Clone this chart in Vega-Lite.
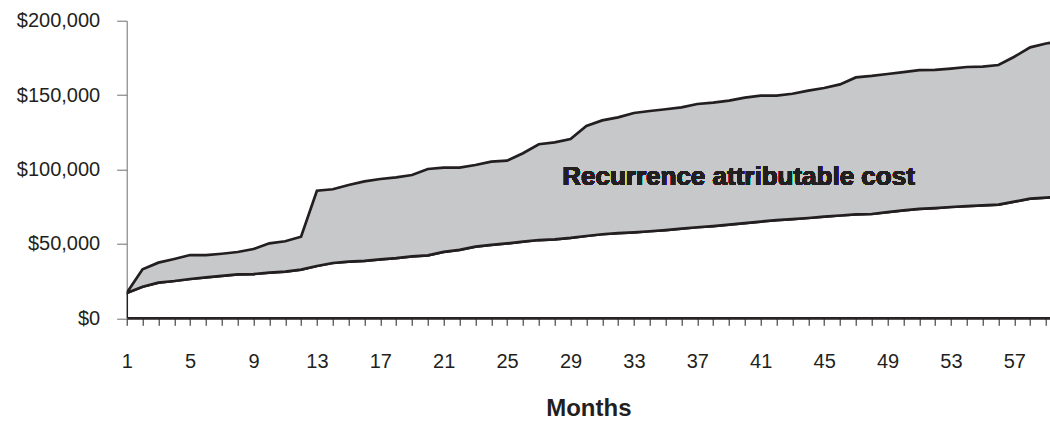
{
  "$schema": "https://vega.github.io/schema/vega-lite/v6.json",
  "width": 923.3,
  "height": 297.6,
  "autosize": {"type": "none"},
  "padding": {"left": 126.7, "top": 20.7, "right": 0, "bottom": 103.7},
  "background": "white",
  "config": {
    "view": {"stroke": null},
    "font": "Liberation Sans",
    "axis": {"grid": false, "labelFont": "Liberation Sans", "titleFont": "Liberation Sans"}
  },
  "data": {
    "values": [
      {"month": 1, "lower": 17000, "upper": 17000},
      {"month": 2, "lower": 21250, "upper": 32900},
      {"month": 3, "lower": 23950, "upper": 37400},
      {"month": 4, "lower": 25050, "upper": 39850},
      {"month": 5, "lower": 26400, "upper": 42500},
      {"month": 6, "lower": 27550, "upper": 42400},
      {"month": 7, "lower": 28450, "upper": 43400},
      {"month": 8, "lower": 29550, "upper": 44550},
      {"month": 9, "lower": 29750, "upper": 46550},
      {"month": 10, "lower": 30650, "upper": 50400},
      {"month": 11, "lower": 31350, "upper": 51750},
      {"month": 12, "lower": 32700, "upper": 54850},
      {"month": 13, "lower": 35150, "upper": 85750},
      {"month": 14, "lower": 37150, "upper": 86700},
      {"month": 15, "lower": 38050, "upper": 89600},
      {"month": 16, "lower": 38600, "upper": 92000},
      {"month": 17, "lower": 39650, "upper": 93600},
      {"month": 18, "lower": 40500, "upper": 94750},
      {"month": 19, "lower": 41650, "upper": 96300},
      {"month": 20, "lower": 42300, "upper": 100350},
      {"month": 21, "lower": 44600, "upper": 101200},
      {"month": 22, "lower": 46000, "upper": 101300},
      {"month": 23, "lower": 48200, "upper": 103000},
      {"month": 24, "lower": 49300, "upper": 105250},
      {"month": 25, "lower": 50300, "upper": 105950},
      {"month": 26, "lower": 51500, "upper": 110900},
      {"month": 27, "lower": 52600, "upper": 117000},
      {"month": 28, "lower": 53000, "upper": 118250},
      {"month": 29, "lower": 54000, "upper": 120500},
      {"month": 30, "lower": 55300, "upper": 129200},
      {"month": 31, "lower": 56500, "upper": 133000},
      {"month": 32, "lower": 57300, "upper": 135000},
      {"month": 33, "lower": 57800, "upper": 138000},
      {"month": 34, "lower": 58500, "upper": 139300},
      {"month": 35, "lower": 59300, "upper": 140500},
      {"month": 36, "lower": 60300, "upper": 141800},
      {"month": 37, "lower": 61200, "upper": 144000},
      {"month": 38, "lower": 62000, "upper": 145000},
      {"month": 39, "lower": 62900, "upper": 146300},
      {"month": 40, "lower": 63900, "upper": 148300},
      {"month": 41, "lower": 65000, "upper": 149600},
      {"month": 42, "lower": 66000, "upper": 149700},
      {"month": 43, "lower": 66700, "upper": 150900},
      {"month": 44, "lower": 67400, "upper": 153000},
      {"month": 45, "lower": 68300, "upper": 154800},
      {"month": 46, "lower": 69100, "upper": 157200},
      {"month": 47, "lower": 69800, "upper": 161900},
      {"month": 48, "lower": 70100, "upper": 162900},
      {"month": 49, "lower": 71300, "upper": 164200},
      {"month": 50, "lower": 72500, "upper": 165500},
      {"month": 51, "lower": 73600, "upper": 166800},
      {"month": 52, "lower": 74100, "upper": 166900},
      {"month": 53, "lower": 74800, "upper": 167800},
      {"month": 54, "lower": 75400, "upper": 168900},
      {"month": 55, "lower": 75900, "upper": 169100},
      {"month": 56, "lower": 76400, "upper": 170200},
      {"month": 57, "lower": 78400, "upper": 175800},
      {"month": 58, "lower": 80400, "upper": 182100},
      {"month": 59, "lower": 81100, "upper": 184700},
      {"month": 60, "lower": 82000, "upper": 186000}
    ]
  },
  "encoding": {
    "x": {
      "field": "month",
      "type": "quantitative",
      "scale": {"domain": [1, 59.25], "nice": false, "zero": false},
      "axis": {
        "title": "Months",
        "values": [1,2,3,4,5,6,7,8,9,10,11,12,13,14,15,16,17,18,19,20,21,22,23,24,25,26,27,28,29,30,31,32,33,34,35,36,37,38,39,40,41,42,43,44,45,46,47,48,49,50,51,52,53,54,55,56,57,58,59],
        "labelExpr": "datum.value % 4 == 1 ? datum.label : ''",
        "labelFontSize": 20,
        "labelColor": "#231f20",
        "labelPadding": 26,
        "labelFlush": false,
        "labelOverlap": false,
        "tickSize": 7,
        "tickColor": "#231f20",
        "tickWidth": 1,
        "domainColor": "#231f20",
        "domainWidth": 2,
        "titleFontSize": 24,
        "titleFontWeight": "bold",
        "titleColor": "#231f20",
        "titlePadding": 25
      }
    }
  },
  "layer": [
    {
      "mark": {"type": "area", "fill": "white", "stroke": "#231f20", "strokeWidth": 2.7, "clip": true},
      "encoding": {
        "y": {
          "field": "lower",
          "type": "quantitative",
          "scale": {"domain": [0, 200000], "nice": false},
          "axis": {
            "title": null,
            "values": [0, 50000, 100000, 150000, 200000],
            "format": "$,.0f",
            "labelFontSize": 20,
            "labelColor": "#231f20",
            "labelPadding": 17,
            "tickSize": 10,
            "tickColor": "#6d6e71",
            "domainColor": "#6d6e71",
            "domainWidth": 1
          }
        }
      }
    },
    {
      "mark": {"type": "area", "fill": "#c7c8ca", "stroke": "#231f20", "strokeWidth": 2.7, "clip": true},
      "encoding": {
        "y": {"field": "upper", "type": "quantitative"},
        "y2": {"field": "lower"}
      }
    },
    {
      "mark": {"type": "text", "text": "Recurrence attributable cost", "fontSize": 26, "fontWeight": "bold", "color": "#231f20", "align": "center", "baseline": "middle"},
      "encoding": {
        "x": {"datum": 39.6},
        "y": {"datum": 95000}
      }
    }
  ]
}
